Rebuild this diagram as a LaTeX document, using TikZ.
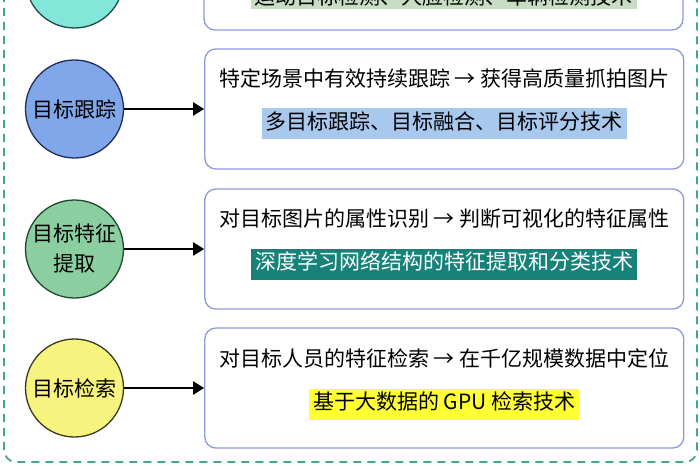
\documentclass[tikz,border=0pt]{standalone}
\usepackage{fontspec}
\setmainfont{Noto Sans CJK SC}
\usetikzlibrary{positioning,arrows.meta}
\definecolor{aquaFill}{HTML}{82E6D9}
\definecolor{aquaLine}{HTML}{1E4A45}
\definecolor{blueFill}{HTML}{7FA7EA}
\definecolor{blueLine}{HTML}{1F2C5C}
\definecolor{greenFill}{HTML}{8BCFA0}
\definecolor{greenLine}{HTML}{1D4A2E}
\definecolor{yellowFill}{HTML}{F7F37F}
\definecolor{yellowLine}{HTML}{3A3A1E}
\definecolor{boxLine}{HTML}{8E98DA}
\definecolor{hlGreen}{HTML}{C7DEC3}
\definecolor{hlBlue}{HTML}{A9C8EE}
\definecolor{hlTeal}{HTML}{16827A}
\definecolor{hlYellow}{HTML}{FFFF33}
\definecolor{frameGreen}{HTML}{45A97F}
\tikzset{stagecirc/.style={
  shape=circle,
  draw=#1Line,
  fill=#1Fill,
  line width=1.3pt,
  minimum size=98pt,
  inner sep=0pt,
  align=center,
  font=\fontsize{21}{30}\selectfont,
  }
  }
\tikzset{infobox/.style={
  draw=boxLine,
  line width=1.3pt,
  rounded corners=11pt,
  minimum width=479pt,
  minimum height=120pt,
  }
  }
\tikzset{lineone/.style={
  font=\fontsize{21}{25}\selectfont,
  inner sep=0pt,
  }
  }
\tikzset{hiline/.style={
  fill=#1,
  font=\fontsize{21}{25}\selectfont,
  inner xsep=4pt,
  inner ysep=5pt,
  text height=16pt,
  text depth=5pt,
  }
  }
\tikzset{flowarrow/.style={
  line width=2.2pt,
  -{Triangle[length=11pt,width=13pt]},
  }
  }

\begin{document}
\begin{tikzpicture}[x=1pt,y=-1pt]
  \useasboundingbox (0,0) rectangle (700,470);
  % outer dashed frame
  \draw[frameGreen, line width=1.8pt, dash pattern=on 8pt off 6pt, rounded corners=12pt]
    (4,-200) rectangle (697,462);

  % detection (cut at top)
  \node[stagecirc=aqua] (detect) at (74.5,-21) {};
  \node[infobox] (detectbox) at (443.5,-30) {};
  \node[hiline=hlGreen, inner ysep=1pt, text depth=4pt, anchor=base] (detecthl) at (443.5,4.5) {运动目标检测、人脸检测、车辆检测技术};
  \draw[flowarrow] (detect.east) -- (detect.east -| detectbox.west);

  % tracking
  \node[stagecirc=blue] (track) at (74.5,109) {目标跟踪};
  \node[infobox, right=80pt of track] (trackbox) {};
  \node[lineone] (tracktxt) at ([yshift=-30pt]trackbox.north) {特定场景中有效持续跟踪 → 获得高质量抓拍图片};
  \node[hiline=hlBlue] (trackhl) at ([yshift=-15pt]trackbox.center) {多目标跟踪、目标融合、目标评分技术};
  \draw[flowarrow] (track) -- (trackbox);

  % feature extraction
  \node[stagecirc=green] (feature) at (74.5,249) {目标特征\\提取};
  \node[infobox, right=80pt of feature] (featurebox) {};
  \node[lineone] (featuretxt) at ([yshift=-30pt]featurebox.north) {对目标图片的属性识别 → 判断可视化的特征属性};
  \node[hiline=hlTeal, text=white] (featurehl) at ([yshift=-15pt]featurebox.center) {深度学习网络结构的特征提取和分类技术};
  \draw[flowarrow] (feature) -- (featurebox);

  % retrieval
  \node[stagecirc=yellow] (search) at (74.5,388) {目标检索};
  \node[infobox, right=80pt of search] (searchbox) {};
  \node[lineone] (searchtxt) at ([yshift=-31pt]searchbox.north) {对目标人员的特征检索 → 在千亿规模数据中定位};
  \node[hiline=hlYellow] (searchhl) at ([yshift=-16pt]searchbox.center) {基于大数据的 GPU 检索技术};
  \draw[flowarrow] (search) -- (searchbox);
\end{tikzpicture}
\end{document}
